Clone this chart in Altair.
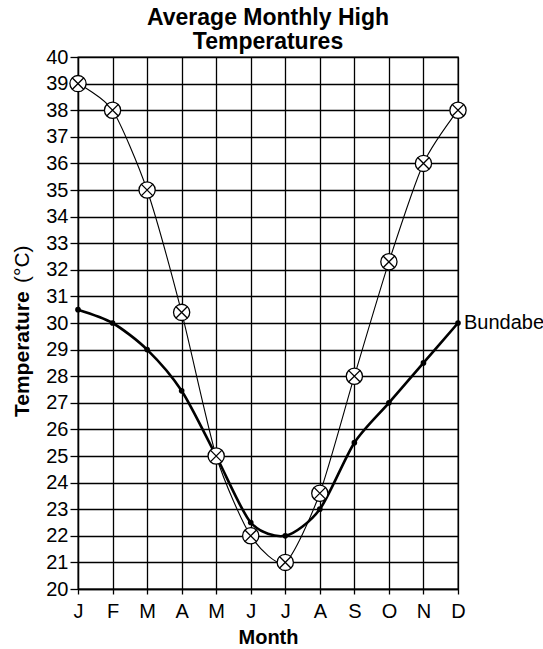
import altair as alt
import pandas as pd

months = ["J", "F", "M", "A", "M", "J", "J", "A", "S", "O", "N", "D"]
bundaberg = [30.5, 30.0, 29.0, 27.45, 25.0, 22.5, 22.0, 23.0, 25.5, 27.0, 28.5, 30.0]
other = [39.0, 38.0, 35.0, 30.4, 25.0, 22.0, 21.0, 23.6, 28.0, 32.3, 36.0, 38.0]
y_ticks = list(range(20, 41))

FONT = "Liberation Sans"

df = pd.DataFrame({"idx": list(range(12)), "month": months,
                   "bund": bundaberg, "other": other})

label_expr = "[" + ",".join("'%s'" % m for m in months) + "][datum.value]"

x_axis = alt.Axis(values=list(range(12)), labelExpr=label_expr,
                  title="Month", grid=True, tickSize=5,
                  labelOverlap=False, labelFlush=False,
                  labelPadding=7, titlePadding=6,
                  labelFontSize=20, titleFontSize=20,
                  titleFontWeight="bold")
x_scale = alt.Scale(domain=[0, 11], nice=False, zero=False)
y_scale = alt.Scale(domain=[20, 40], nice=False, zero=False)
y_axis = alt.Axis(values=y_ticks, title=None, grid=True, tickSize=8,
                  labelOverlap=False, labelFlush=False,
                  labelPadding=2, labelFontSize=20)


def X():
    return alt.X("idx:Q", scale=x_scale, axis=x_axis)


def Y(field):
    return alt.Y(field + ":Q", scale=y_scale, axis=y_axis)


base = alt.Chart(df)

thin = base.mark_line(color="black", strokeWidth=1.1, interpolate="cardinal",
                      tension=0.3).encode(x=X(), y=Y("other"))
thick = base.mark_line(color="black", strokeWidth=2.6, interpolate="cardinal",
                       tension=0.2).encode(x=X(), y=Y("bund"))
dots = base.mark_circle(color="black", size=32, opacity=1).encode(
    x=X(), y=Y("bund"))
circles = base.mark_point(shape="circle", size=264, filled=True, fill="white",
                          stroke="black", strokeWidth=1.3, opacity=1).encode(
    x=X(), y=Y("other"))
xs = base.mark_point(shape="M-0.72,-0.72L0.72,0.72M-0.72,0.72L0.72,-0.72",
                     size=264, filled=False, stroke="black", strokeWidth=1.3,
                     opacity=1).encode(x=X(), y=Y("other"))

label_df = pd.DataFrame({"idx": [11], "bund": [bundaberg[-1]], "name": ["Bundaberg"]})
blabel = alt.Chart(label_df).mark_text(align="left", baseline="middle", dx=6,
                                       fontSize=20, font=FONT, color="black").encode(
    x=X(), y=Y("bund"), text="name:N")

ytitle_df = pd.DataFrame({"t1": ["Temperature"], "t2": ["(°C)"]})
yt1 = alt.Chart(ytitle_df).mark_text(angle=270, align="left", baseline="alphabetic",
                                     fontSize=21, fontWeight="bold", font=FONT,
                                     color="black").encode(
    x=alt.value(-49), y=alt.value(360), text="t1:N")
yt2 = alt.Chart(ytitle_df).mark_text(angle=270, align="left", baseline="alphabetic",
                                     fontSize=21, font=FONT, color="black").encode(
    x=alt.value(-49), y=alt.value(226), text="t2:N")

chart = alt.layer(thin, thick, dots, circles, xs, blabel, yt1, yt2).properties(
    width=380, height=532,
    title=alt.TitleParams(["Average Monthly High", "Temperatures"], fontSize=23,
                          fontWeight="bold", font=FONT, color="black",
                          lineHeight=24, offset=-7, anchor="middle"),
    autosize=alt.AutoSizeParams(type="none"),
    padding={"left": 78, "top": 57, "right": 85, "bottom": 60},
).configure_axis(
    domainColor="black", domainWidth=1.3, tickColor="black", tickWidth=1.3,
    gridColor="black", gridWidth=1.3, gridOpacity=1,
    labelColor="black", titleColor="black", labelFont=FONT, titleFont=FONT,
).configure_view(stroke="black", strokeWidth=1.3)

chart.save("out.html", embed_options={"renderer": "svg", "actions": False})
